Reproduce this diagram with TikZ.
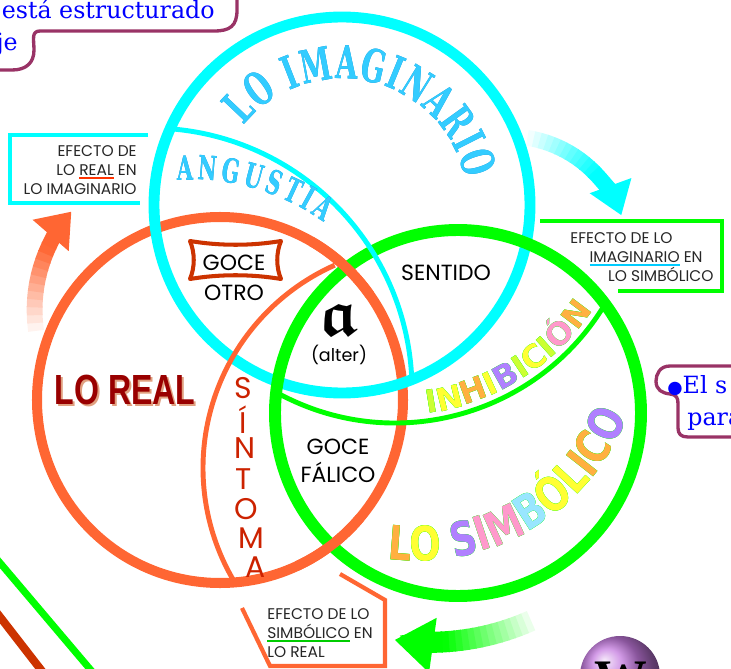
\documentclass[tikz,border=0pt]{standalone}
\usepackage{amsmath}
\usepackage{amssymb}
\usepackage{fontspec}
\usetikzlibrary{arrows.meta, positioning, decorations.text}
\setmainfont{Poppins}
\newfontfamily\bubblefont{DejaVu Serif}
\newfontfamily\roundfont{DejaVu Sans}
\newfontfamily\simfont[FakeStretch=0.78]{DejaVu Sans}
\newfontfamily\imagfont[FakeStretch=0.62]{DejaVu Serif}
\newfontfamily\realfont[FakeStretch=0.76]{Liberation Sans}
\newfontfamily\ballfont{Liberation Serif}
\definecolor{ringcyan}{HTML}{00FFFF}
\definecolor{ringorange}{HTML}{FF6633}
\definecolor{ringgreen}{HTML}{00FF00}
\definecolor{bubble}{HTML}{993366}
\definecolor{bubbletext}{HTML}{0000FF}
\definecolor{imagblue}{HTML}{33CCFF}
\definecolor{imagshade}{HTML}{0088CC}
\definecolor{realred}{HTML}{990000}
\definecolor{realshade}{HTML}{E0A080}
\definecolor{sinred}{HTML}{CC2200}
\definecolor{goceframe}{HTML}{CC3300}
\definecolor{mapred}{HTML}{CC3300}
\definecolor{underred}{HTML}{FF3300}
\definecolor{undercyan}{HTML}{00CCFF}
\definecolor{undergreen}{HTML}{00CC00}
\definecolor{sphere}{HTML}{C47ADF}
\definecolor{rbY}{HTML}{FFFF33}
\definecolor{rbO}{HTML}{FFB040}
\definecolor{rbV}{HTML}{B080FF}
\definecolor{rbK}{HTML}{FF99CC}
\definecolor{rbB}{HTML}{99E6FF}
\definecolor{rbG}{HTML}{CCFF33}
\tikzset{
  ring/.style={draw=#1, line width=6.2pt},
  thinring/.style={draw=#1, line width=2.8pt},
  effectframe/.style={draw=#1, line width=2.8pt},
  effecttext/.style={font=\fontsize{8.8}{10.8}\selectfont, text=black!85, inner sep=0pt},
  zonelabel/.style={font=\fontsize{12.5}{14}\selectfont, inner sep=0pt},
  sinletter/.style={font=\fontsize{17}{17}\selectfont, text=sinred, inner sep=0pt},
  callout/.style={draw=bubble, line width=1.9pt, line join=round},
  bubbletxt/.style={font=\bubblefont\fontsize{13.5}{16}\selectfont, text=bubbletext, inner sep=0pt},
  fadeshaft/.style={line width=#1},
  fadeshaft/.default=9pt
}
\newcommand{\markunder}[2]{\setbox0=\hbox{#2}\rlap{\color{#1}\rule[-2pt]{\wd0}{0.9pt}}\box0\relax}

\begin{document}
\begin{tikzpicture}[x=0.02cm, y=-0.02cm]
  \useasboundingbox (0,0) rectangle (731,669);
  \clip (0,0) rectangle (731,669);

  % centres of the three rings
  \coordinate (imag) at (342,205);
  \coordinate (real) at (220,400);
  \coordinate (symb) at (458,413);

  % bits of the rest of the map
  \draw[line width=4pt, draw=ringgreen] (-10,551) -- (95,675);
  \draw[line width=4.6pt, draw=mapred] (-10,604) -- (45,675);
  \shade[ball color=sphere] (620,676) circle[radius=40];
  \node[font=\ballfont\bfseries\fontsize{30}{30}\selectfont, inner sep=0pt, anchor=north] (ballW) at (621,662) {W};

  % callouts
  \draw[callout] (237,-10) -- (237,10) .. controls (237,26) and (230,31) .. (214,31) -- (40,31)
    .. controls (31,31) and (34,40) .. (34,50) .. controls (34,63) and (26,70) .. (12,70) -- (-10,70);
  \node[bubbletxt, anchor=base east] (bubA) at (215,19) {está estructurado};
  \node[bubbletxt, anchor=base east] (bubB) at (18,51) {je};
  \draw[callout] (740,366) -- (670,366) .. controls (660,366) and (656,374) .. (656,381)
    .. controls (656,390) and (662,393) .. (670,394) .. controls (677,395) and (678,398) .. (678,404)
    -- (678,428) .. controls (678,434) and (681,437) .. (688,437) -- (740,437);
  \node[bubbletxt, anchor=base west] (bubC) at (667,393) {{\roundfont\fontsize{10}{10}\selectfont ●}El s};
  \node[bubbletxt, anchor=base west] (bubD) at (687,425) {para};

  % effect arrows, fading in towards the head
  \coordinate (fadeR) at (184.6,310);
  \foreach \k in {0,...,10} {
    \pgfmathsetmacro\aa{172+\k*3}
    \pgfmathsetmacro\bb{\aa+3.4}
    \pgfmathtruncatemacro\mix{8+\k*9}
    \draw[fadeshaft, draw=ringorange!\mix!white] (fadeR) ++(\aa:150) arc[start angle=\aa, end angle=\bb, radius=150];
  }
  \draw[fadeshaft, draw=ringorange, -{Triangle[width=26pt,length=18pt]}] (fadeR) ++(205:150) arc[start angle=205, end angle=221, radius=150];

  \coordinate (fadeI) at (508.6,256.4);
  \foreach \k in {0,...,11} {
    \pgfmathsetmacro\aa{-81+\k*3}
    \pgfmathsetmacro\bb{\aa+3.4}
    \pgfmathtruncatemacro\mix{5+\k*8}
    \draw[fadeshaft, draw=ringcyan!\mix!white] (fadeI) ++(\aa:120) arc[start angle=\aa, end angle=\bb, radius=120];
  }
  \draw[fadeshaft, draw=ringcyan, -{Triangle[width=24pt,length=18pt]}] (fadeI) ++(-45:120) arc[start angle=-45, end angle=-20, radius=120];

  \coordinate (fadeS) at (429.4,392.3);
  \foreach \k in {0,...,13} {
    \pgfmathsetmacro\aa{66+\k*1.5}
    \pgfmathsetmacro\bb{\aa+1.8}
    \pgfmathtruncatemacro\mix{8+\k*7}
    \draw[fadeshaft=12pt, draw=ringgreen!\mix!white] (fadeS) ++(\aa:250) arc[start angle=\aa, end angle=\bb, radius=250];
  }
  \draw[fadeshaft=12pt, draw=ringgreen, -{Triangle[width=30pt,length=22pt]}] (fadeS) ++(87:250) arc[start angle=87, end angle=98, radius=250];

  % effect frames
  \draw[effectframe=ringcyan] (148,135) -| (10,203) -- (140,203);
  \node[effecttext, align=right, anchor=north east] (effReal) at (137,145)
    {EFECTO DE\\LO \markunder{underred}{REAL} EN\\LO IMAGINARIO};
  \draw[effectframe=ringgreen] (540,221) -| (722,291) -- (618,291);
  \node[effecttext, align=left, anchor=north west] (effImag) at (570,232)
    {EFECTO DE LO\\\hspace*{11pt}\markunder{undercyan}{IMAGINARIO} EN\\\hspace*{21.5pt}LO SIMBÓLICO};
  \draw[effectframe=ringorange, line width=2.4pt] (242,608) -- (270,666) -- (385,666) -- (385,600) -- (340,574);
  \node[effecttext, align=left, anchor=north west] (effSymb) at (267,608)
    {EFECTO DE LO\\\markunder{undergreen}{SIMBÓLICO} EN\\LO REAL};

  % the three rings: orange under cyan, cyan under green, green under orange
  \draw[ring=ringorange, line width=5.7pt] (real) circle[radius=183];
  \draw[ring=ringcyan] (imag) circle[radius=188];
  \draw[ring=ringgreen, line width=6.8pt] (symb) circle[radius=183];
  \draw[ring=ringorange, line width=5.7pt] (real) ++(-60:183) arc[start angle=-60, end angle=-35, radius=183];
  \draw[ring=ringorange, line width=5.7pt] (real) ++(40:183) arc[start angle=40, end angle=65, radius=183];

  % inner arcs
  \coordinate (angC) at (150,390);
  \coordinate (sinC) at (425,468);
  \coordinate (inhC) at (395,178);
  \draw[thinring=ringcyan] (angC) ++(-85:262) arc[start angle=-85, end angle=-3, radius=262];
  \draw[thinring=ringorange] (sinC) ++(246:222) arc[start angle=246, end angle=150, radius=222];
  \draw[thinring=ringgreen] (inhC) ++(119:245) arc[start angle=119, end angle=32, radius=245];

  % ring titles
  \path[decorate, transform canvas={shift={(1.2pt,-1.2pt)}}, decoration={text along path, text align={fit to path},
    text={|\imagfont\bfseries\fontsize{26}{26}\selectfont\color{imagshade}|LO IMAGINARIO}}]
    (imag) ++(-141:126) arc[start angle=-141, end angle=-12, radius=126];
  \path[decorate, decoration={text along path, text align={fit to path},
    text={|\imagfont\bfseries\fontsize{26}{26}\selectfont\color{imagblue}|LO IMAGINARIO}}]
    (imag) ++(-141:126) arc[start angle=-141, end angle=-12, radius=126];
  \coordinate (angT) at (190,414);
  \path[decorate, transform canvas={shift={(0.9pt,-0.9pt)}}, decoration={text along path, text align={fit to path},
    text={|\imagfont\bfseries\fontsize{19}{19}\selectfont\color{imagshade}|ANGUSTIA}}]
    (angT) ++(-93:234) arc[start angle=-93, end angle=-55, radius=234];
  \path[decorate, decoration={text along path, text align={fit to path},
    text={|\imagfont\bfseries\fontsize{19}{19}\selectfont\color{imagblue}|ANGUSTIA}}]
    (angT) ++(-93:234) arc[start angle=-93, end angle=-55, radius=234];

  \foreach \dx/\dy in {-1.3/1.3, 1.1/-1.1} {
    \path[decorate, transform canvas={shift={(\dx pt,\dy pt)}}, decoration={text along path, text align=center,
      text={|\roundfont\bfseries\fontsize{18}{18}\selectfont\color{ringgreen}|INHIBICIÓN}}]
      (inhC) ++(85:238) arc[start angle=85, end angle=31, radius=238];
  }
  \path[decorate, decoration={text along path, text align=center,
    text={|\roundfont\bfseries\fontsize{18}{18}\selectfont\color{rbG}|I|+\color{rbY}|N|+\color{rbO}|H|+\color{rbY}|I|+\color{rbV}|B|+\color{rbG}|I|+\color{rbY}|C|+\color{rbG}|I|+\color{rbK}|Ó|+\color{rbO}|N}}]
    (inhC) ++(85:238) arc[start angle=85, end angle=31, radius=238];

  \coordinate (simT) at (416,333);
  \foreach \dx/\dy in {-1.6/1.6, 1.3/-1.3} {
    \path[decorate, transform canvas={shift={(\dx pt,\dy pt)}}, decoration={text along path, text align=center,
      text={|\simfont\bfseries\fontsize{27}{27}\selectfont\color{ringgreen}|LO SIMBÓLICO}}]
      (simT) ++(100:228) arc[start angle=100, end angle=19, radius=228];
  }
  \path[decorate, decoration={text along path, text align=center,
    text={|\simfont\bfseries\fontsize{27}{27}\selectfont\color{rbO}|L|+\color{rbY}|O |+\color{rbV}|S|+\color{rbK}|I|+\color{rbK}|M|+\color{rbB}|B|+\color{rbY}|Ó|+\color{rbY}|L|+\color{rbO}|I|+\color{rbO}|C|+\color{rbV}|O}}]
    (simT) ++(100:228) arc[start angle=100, end angle=19, radius=228];

  \node[font=\realfont\bfseries\fontsize{24}{24}\selectfont, text=realshade, inner sep=0pt] (realShade) at (127,392) {LO REAL};
  \node[font=\realfont\bfseries\fontsize{24}{24}\selectfont, text=realred, inner sep=0pt] (realTitle) at (125,390) {LO REAL};

  % zone labels
  \node[zonelabel] (sentido) at (446,273) {SENTIDO};
  \node[zonelabel] (goceOtro) at (234,263) {GOCE};
  \node[zonelabel, below=7.5pt of goceOtro] (otro) {OTRO};
  \draw[draw=goceframe, line width=2.3pt, line join=round]
    (190,241) .. controls (220,246) and (251,246) .. (281,241)
    .. controls (276,253) and (276,267) .. (281,279)
    .. controls (251,274) and (220,274) .. (190,279)
    .. controls (195,267) and (195,253) .. cycle;
  \node[inner sep=0pt] (objA) at (339,320) {\fontsize{24.88}{26}\selectfont\scalebox{1.5}{$\boldsymbol{\mathfrak{a}}$}};
  \node[font=\fontsize{10}{12}\selectfont, inner sep=0pt, below=5pt of objA] (alter) {(alter)};
  \node[zonelabel] (goceFal) at (338,447) {GOCE};
  \node[zonelabel, below=3.5pt of goceFal] (falico) {FÁLICO};
  \foreach \ch/\xx/\yy [count=\i] in {S/243/388, Í/243/420, N/245/448, T/244/479, O/246/509, M/251/538, A/256/567}
    \node[sinletter] (sin\i) at (\xx,\yy) {\ch};
\end{tikzpicture}
\end{document}
